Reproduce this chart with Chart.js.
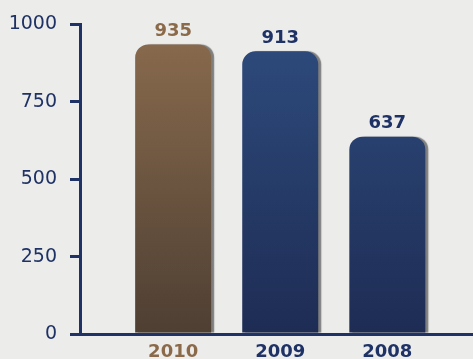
<!DOCTYPE html>
<html>
<head>
<meta charset="utf-8">
<script src="https://cdn.jsdelivr.net/npm/chart.js@4/dist/chart.umd.min.js"></script>
<style>
html,body{margin:0;padding:0;background:#ececeb;}
#wrap{width:473px;height:359px;position:relative;}
</style>
</head>
<body>
<div id="wrap"><canvas id="c" width="473" height="359"></canvas></div>
<script>
const categories = ['2010', '2009', '2008'];
const values = [935, 913, 637];
const yTicks = [0, 250, 500, 750, 1000];

const NAVY = '#1f3265';
const BROWN = '#8b6a4a';
const barTop = ['#8b6c4e', '#2e4c7e', '#2e4c7e'];
const barBottom = ['#4e3f33', '#1e2c54', '#1e2c54'];
const textColors = [BROWN, NAVY, NAVY];

const bgPlugin = {
  id: 'bg',
  beforeDraw(chart) {
    const ctx = chart.ctx;
    ctx.save();
    ctx.fillStyle = '#ececeb';
    ctx.fillRect(0, 0, chart.width, chart.height);
    ctx.restore();
  }
};

const shadowPlugin = {
  id: 'shadow',
  beforeDatasetsDraw(chart) {
    const ctx = chart.ctx;
    ctx.save();
    ctx.shadowColor = 'rgba(90,90,90,0.75)';
    ctx.shadowOffsetX = 3;
    ctx.shadowOffsetY = 0;
    ctx.shadowBlur = 1;
  },
  afterDatasetsDraw(chart) {
    chart.ctx.restore();
  }
};

const valueLabels = {
  id: 'valueLabels',
  afterDatasetsDraw(chart) {
    const ctx = chart.ctx;
    const meta = chart.getDatasetMeta(0);
    ctx.save();
    ctx.font = 'bold 18px "DejaVu Sans"';
    ctx.textAlign = 'center';
    ctx.textBaseline = 'bottom';
    meta.data.forEach((bar, i) => {
      ctx.fillStyle = textColors[i];
      ctx.fillText(String(values[i]), bar.x, bar.y - 4);
    });
    ctx.restore();
  }
};

function gradientFor(context) {
  const chart = context.chart;
  const area = chart.chartArea;
  if (!area) return barTop[context.dataIndex];
  const i = context.dataIndex;
  const g = chart.ctx.createLinearGradient(0, area.top, 0, area.bottom);
  g.addColorStop(0, barTop[i]);
  g.addColorStop(1, barBottom[i]);
  return g;
}

new Chart(document.getElementById('c'), {
  type: 'bar',
  data: {
    datasets: [{
      data: values.map((v, i) => ({ x: i + 1, y: v })),
      backgroundColor: gradientFor,
      borderWidth: 0,
      borderRadius: { topLeft: 13, topRight: 13, bottomLeft: 0, bottomRight: 0 },
      borderSkipped: 'bottom',
      categoryPercentage: 1,
      barPercentage: 0.71
    }]
  },
  plugins: [bgPlugin, shadowPlugin, valueLabels],
  options: {
    responsive: false,
    animation: false,
    events: [],
    layout: { padding: { top: 19, right: 0, left: 0, bottom: 0 } },
    plugins: { legend: { display: false }, tooltip: { enabled: false } },
    scales: {
      x: {
        type: 'linear',
        offset: false,
        bounds: 'data',
        min: 0.13,
        max: 3.8,
        afterBuildTicks(scale) {
          scale.ticks = categories.map((c, i) => ({ value: i + 1 }));
        },
        afterFit(scale) { scale.height = 25; },
        grid: { display: false, drawTicks: false, offset: false },
        border: { display: true, color: NAVY, width: 3 },
        ticks: {
          padding: 8,
          autoSkip: false,
          maxRotation: 0,
          font: { family: 'DejaVu Sans', size: 18, weight: 'bold' },
          color: (ctx) => textColors[ctx.index] || NAVY,
          callback: (v) => categories[v - 1]
        }
      },
      y: {
        min: 0,
        max: 1000,
        afterBuildTicks(scale) {
          scale.ticks = yTicks.map(v => ({ value: v }));
        },
        afterFit(scale) { scale.width = 80; },
        grid: { drawOnChartArea: false, drawTicks: true, tickLength: 10, color: NAVY, lineWidth: 3 },
        border: { display: true, color: NAVY, width: 3 },
        ticks: {
          padding: 13,
          font: { family: 'DejaVu Sans', size: 19 },
          color: NAVY,
          callback: (v) => String(v)
        }
      }
    }
  }
});
</script>
</body>
</html>
